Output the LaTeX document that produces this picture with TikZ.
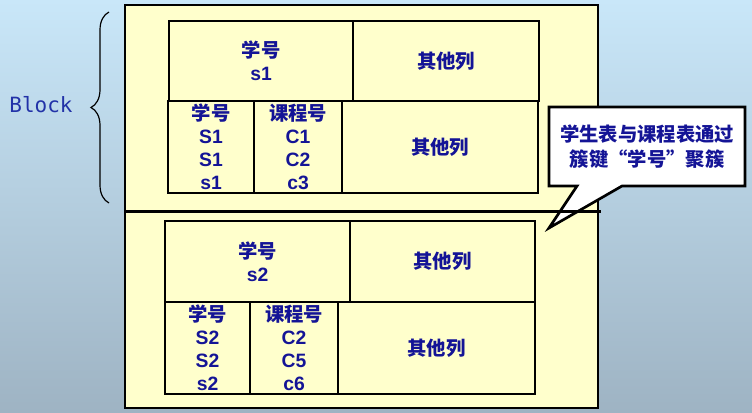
\documentclass[tikz,border=0pt]{standalone}
\usepackage{fontspec}
\setmainfont{Liberation Sans}
\newfontfamily\cjk{Noto Sans CJK SC}
\newfontfamily\blockfont{DejaVu Sans Mono}
\usetikzlibrary{shapes.callouts,decorations.pathreplacing}
\definecolor{paper}{HTML}{FFFFCC}
\definecolor{ink}{HTML}{141496}
\definecolor{bluetext}{HTML}{2232A8}
\definecolor{skytop}{HTML}{C9E7F9}
\definecolor{skybot}{HTML}{9EB3C3}
\newcommand{\zh}[1]{{\cjk #1}}
\tikzset{
  cell/.style 2 args={draw, line width=2pt, fill=paper, minimum width=#1*0.75pt,
    minimum height=#2*0.75pt, inner sep=0pt, align=center, text=ink,
    font=\bfseries\fontsize{14.5}{17.25}\selectfont},
}
\begin{document}
\begin{tikzpicture}[x=0.75pt, y=-0.75pt]
  \useasboundingbox (0,0) rectangle (752,413);
  \shade[top color=skytop, bottom color=skybot] (0,0) rectangle (752,413);

  % the clustered file
  \node[cell={473}{403}] (outer) at (361.5,206.5) {};

  % block of s1
  \node[cell={184}{80}] (key1) at (261,61) {\zh{学号}\\s1};
  \node[cell={186}{80}] (other1) at (446,61) {\zh{其他列}};
  \node[cell={86}{92}] (sno1) at (211,147) {\zh{学号}\\S1\\S1\\s1};
  \node[cell={88}{92}] (cno1) at (298,147) {\zh{课程号}\\C1\\C2\\c3};
  \node[cell={196}{92}] (rest1) at (440,147) {\zh{其他列}};

  % block of s2
  \node[cell={185}{81}] (key2) at (257.5,261.5) {\zh{学号}\\s2};
  \node[cell={185}{81}] (other2) at (442.5,261.5) {\zh{其他列}};
  \node[cell={85}{92}] (sno2) at (207.5,348) {\zh{学号}\\S2\\S2\\s2};
  \node[cell={88}{92}] (cno2) at (294,348) {\zh{课程号}\\C2\\C5\\c6};
  \node[cell={197}{92}] (rest2) at (436.5,348) {\zh{其他列}};

  \node[rectangle callout, draw, line width=2pt, fill=white, inner sep=0pt,
    minimum width=147pt, minimum height=59.25pt,
    callout absolute pointer={(549,228)}, callout pointer width=33.75pt,
    align=center, text=ink, font=\cjk\bfseries\fontsize{14.5}{18.75}\selectfont]
    (note) at (647,146.5) {学生表与课程表通过\\簇键“学号”聚簇};

  \coordinate (cutL) at (125,211.5);
  \coordinate (cutR) at (601,211.5);
  \draw[line width=2pt] (cutL) -- (cutR);

  % Block brace
  \coordinate (braceB) at (109,203);
  \coordinate (braceT) at (109,12);
  \draw[decorate, decoration={brace, amplitude=13.5pt}, line width=0.9pt] (braceB) -- (braceT);
  \node[text=bluetext, font=\blockfont\fontsize{15.75}{18}\selectfont] (block) at (41,105) {Block};
\end{tikzpicture}
\end{document}
